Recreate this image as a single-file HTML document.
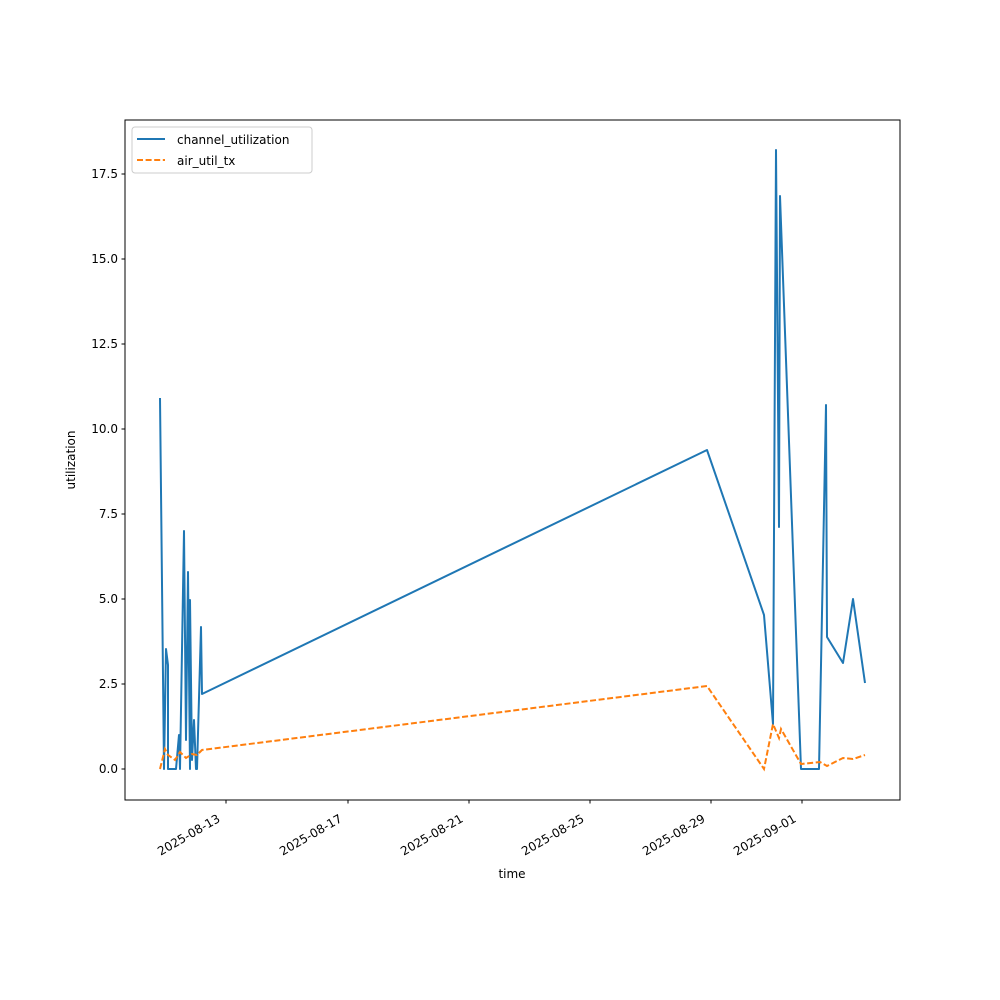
<!DOCTYPE html>
<html><head><meta charset="utf-8"><style>body{margin:0;background:#fff}svg{display:block}text{font-family:"DejaVu Sans","Liberation Sans",sans-serif;font-size:12px;fill:#000}</style></head><body>
<svg width="1000" height="1000" viewBox="0 0 1000 1000">
<rect width="1000" height="1000" fill="#fff"/>
<g stroke="#000" stroke-width="1">
<line x1="125" y1="769" x2="121.5" y2="769"/><line x1="125" y1="684" x2="121.5" y2="684"/><line x1="125" y1="599" x2="121.5" y2="599"/><line x1="125" y1="514" x2="121.5" y2="514"/><line x1="125" y1="429" x2="121.5" y2="429"/><line x1="125" y1="344" x2="121.5" y2="344"/><line x1="125" y1="259" x2="121.5" y2="259"/><line x1="125" y1="174" x2="121.5" y2="174"/>
<line x1="226" y1="800" x2="226" y2="803.5"/><line x1="348" y1="800" x2="348" y2="803.5"/><line x1="469" y1="800" x2="469" y2="803.5"/><line x1="590" y1="800" x2="590" y2="803.5"/><line x1="711" y1="800" x2="711" y2="803.5"/><line x1="802" y1="800" x2="802" y2="803.5"/>
</g>
<g text-anchor="end">
<text x="118" y="773">0.0</text><text x="118" y="688">2.5</text><text x="118" y="603">5.0</text><text x="118" y="518">7.5</text><text x="118" y="433">10.0</text><text x="118" y="348">12.5</text><text x="118" y="263">15.0</text><text x="118" y="178">17.5</text>
<text transform="translate(221,821) rotate(-30)">2025-08-13</text>
<text transform="translate(343,821) rotate(-30)">2025-08-17</text>
<text transform="translate(464,821) rotate(-30)">2025-08-21</text>
<text transform="translate(585,821) rotate(-30)">2025-08-25</text>
<text transform="translate(706,821) rotate(-30)">2025-08-29</text>
<text transform="translate(797,821) rotate(-30)">2025-09-01</text>
</g>
<text x="512" y="878" text-anchor="middle">time</text>
<text transform="translate(75,460) rotate(-90)" text-anchor="middle">utilization</text>
<polyline fill="none" stroke="#1f77b4" stroke-width="2" stroke-linejoin="round" points="160,398 164,769 166,649 168,665 168,769 176,769 179,735 180,769 184,531 186,740 188,572 190,769 190,600 192,760 194,720 196,769 197,769 201,627 202,694 707,450 764,615 773,724 776,150 779,527 780,196 801,769 819,769 826,405 827,637 843,663 853,599 865,683"/>
<polyline fill="none" stroke="#ff7f0e" stroke-width="2" stroke-dasharray="6,2.6" points="160,769 165,749 168,755 175,760 180,752 186,758 192,754 197,755 202,750 707,686 764,769 773,724 779,738 781,729 801,764 820,762 827,766 843,758 853,759 865,755"/>
<rect x="125" y="120" width="775" height="680" fill="none" stroke="#000" stroke-width="1"/>
<rect x="132" y="127" width="180" height="46" rx="3" fill="#fff" fill-opacity="0.8" stroke="#ccc" stroke-width="1"/>
<line x1="137" y1="139" x2="165" y2="139" stroke="#1f77b4" stroke-width="2"/>
<line x1="137" y1="160" x2="165" y2="160" stroke="#ff7f0e" stroke-width="2" stroke-dasharray="6,2.6"/>
<text x="177" y="144">channel_utilization</text>
<text x="177" y="165">air_util_tx</text>
</svg>
</body></html>
